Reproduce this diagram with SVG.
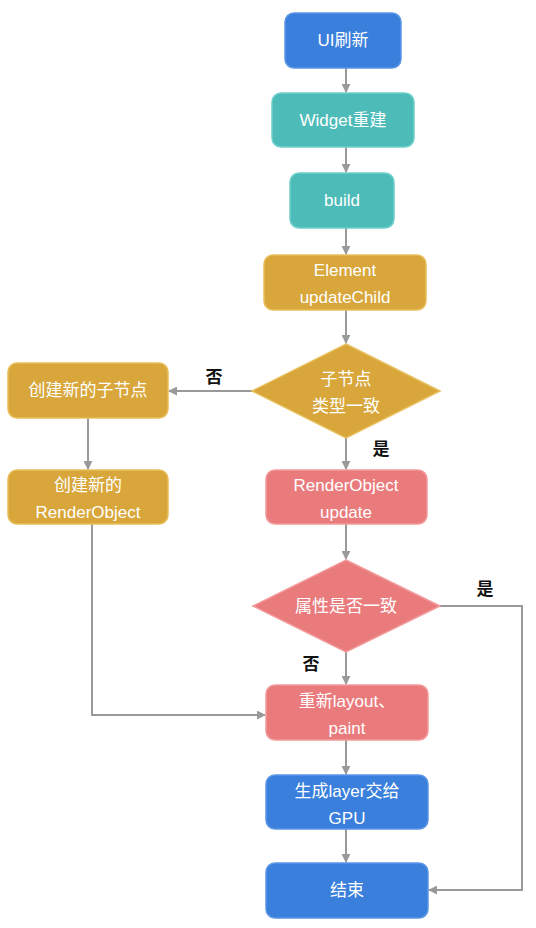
<svg xmlns="http://www.w3.org/2000/svg" width="536" height="928" viewBox="0 0 536 928">
<defs>
<style>
.t{font-family:"Liberation Sans","Noto Sans CJK SC",sans-serif;font-size:17px;fill:#fff;text-anchor:middle}
.l{font-family:"Liberation Sans","Noto Sans CJK SC",sans-serif;font-size:17px;fill:#111;text-anchor:middle;font-weight:bold}
.blue{fill:#3a7fdc;stroke:#5b96e6;stroke-width:1.5}
.teal{fill:#4dbcb8;stroke:#6fd0cc;stroke-width:1.5}
.gold{fill:#d8a63a;stroke:#e8be5c;stroke-width:1.5}
.pink{fill:#ea7b7d;stroke:#f29a9b;stroke-width:1.5}
.c{fill:none;stroke:#999;stroke-width:2}
</style>
<marker id="a" viewBox="0 0 10 10" refX="9" refY="5" markerWidth="9" markerHeight="9" orient="auto" markerUnits="userSpaceOnUse">
<path d="M0,0 L10,5 L0,10 Z" fill="#999"/>
</marker>
</defs>
<rect width="536" height="928" fill="#fff"/>
<g id="connectors">
<path class="c" d="M346,68 V92" marker-end="url(#a)"/>
<path class="c" d="M346,147 V172" marker-end="url(#a)"/>
<path class="c" d="M346,228 V254" marker-end="url(#a)"/>
<path class="c" d="M346,310 V343" marker-end="url(#a)"/>
<path class="c" d="M252,391 H169" marker-end="url(#a)"/>
<path class="c" d="M88,418 V469" marker-end="url(#a)"/>
<path class="c" d="M346,438 V469" marker-end="url(#a)"/>
<path class="c" d="M346,524 V559" marker-end="url(#a)"/>
<path class="c" d="M346,652 V684" marker-end="url(#a)"/>
<path class="c" d="M92,524 V715 H265" marker-end="url(#a)"/>
<path class="c" d="M440,606 H522 V890 H429" marker-end="url(#a)"/>
<path class="c" d="M346,740 V774" marker-end="url(#a)"/>
<path class="c" d="M346,829 V862" marker-end="url(#a)"/>
<text class="l" x="214" y="383">否</text>
<text class="l" x="381" y="455">是</text>
<text class="l" x="485" y="595">是</text>
<text class="l" x="311" y="670">否</text>
</g>
<g id="ui-refresh"><rect class="blue" x="285" y="13" width="116" height="55" rx="9"/><text class="t" x="343" y="46">UI刷新</text></g>
<g id="widget-rebuild"><rect class="teal" x="272" y="93" width="142" height="54" rx="9"/><text class="t" x="343" y="126">Widget重建</text></g>
<g id="build"><rect class="teal" x="290" y="173" width="104" height="55" rx="9"/><text class="t" x="342" y="206">build</text></g>
<g id="element-update"><rect class="gold" x="264" y="255" width="162" height="55" rx="9"/><text class="t" x="345" y="276">Element</text><text class="t" x="345" y="303">updateChild</text></g>
<g id="decision-type"><polygon class="gold" points="346,344 440,391 346,438 252,391"/><text class="t" x="346" y="385">子节点</text><text class="t" x="346" y="412">类型一致</text></g>
<g id="create-child"><rect class="gold" x="8" y="363" width="160" height="55" rx="9"/><text class="t" x="88" y="396">创建新的子节点</text></g>
<g id="create-renderobject"><rect class="gold" x="8" y="470" width="160" height="54" rx="9"/><text class="t" x="88" y="491">创建新的</text><text class="t" x="88" y="518">RenderObject</text></g>
<g id="renderobject-update"><rect class="pink" x="266" y="470" width="161" height="54" rx="9"/><text class="t" x="346" y="491">RenderObject</text><text class="t" x="346" y="518">update</text></g>
<g id="decision-props"><polygon class="pink" points="346,560 440,606 346,652 253,606"/><text class="t" x="346" y="612">属性是否一致</text></g>
<g id="relayout"><rect class="pink" x="266" y="685" width="162" height="55" rx="9"/><text class="t" x="347" y="707">重新layout、</text><text class="t" x="347" y="734">paint</text></g>
<g id="layer-gpu"><rect class="blue" x="266" y="775" width="162" height="54" rx="9"/><text class="t" x="347" y="797">生成layer交给</text><text class="t" x="347" y="824">GPU</text></g>
<g id="end"><rect class="blue" x="266" y="863" width="162" height="55" rx="9"/><text class="t" x="347" y="896">结束</text></g>
</svg>
